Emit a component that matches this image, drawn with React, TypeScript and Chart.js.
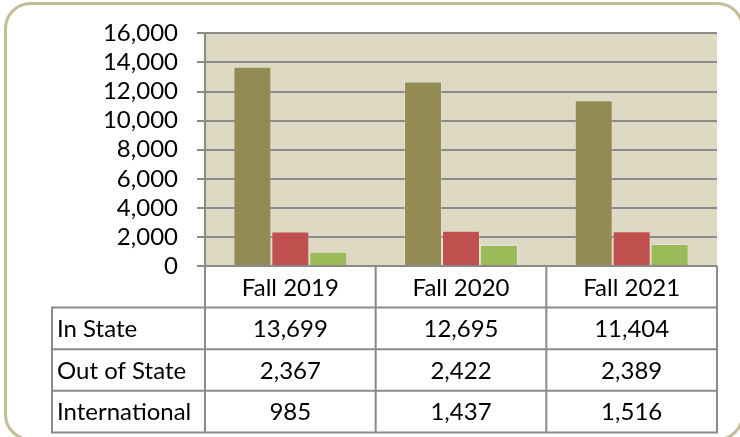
import React, { useEffect, useRef } from "react";
import { Chart, registerables } from "chart.js";

Chart.register(...registerables);

const categories = ["Fall 2019", "Fall 2020", "Fall 2021"];
const seriesNames = ["In State", "Out of State", "International"];
const inState = [13699, 12695, 11404];
const outOfState = [2367, 2422, 2389];
const international = [985, 1437, 1516];
const yTicks = [0, 2000, 4000, 6000, 8000, 10000, 12000, 14000, 16000];

const colors = ["#948A54", "#C0504D", "#9BBB59"];
const FONT = "Lato";
const FONT_SIZE = 24;
const LINE = "#8a8a8a";

const fmt = (v: number) => v.toLocaleString("en-US");

const tablePlugin = {
  id: "dataTable",
  beforeDraw(chart: any) {
    const { ctx, chartArea } = chart;
    ctx.save();
    ctx.fillStyle = "#FFFFFF";
    ctx.fillRect(0, 0, chart.width, chart.height);
    ctx.fillStyle = "#DDD9C3";
    ctx.fillRect(chartArea.left, chartArea.top, chartArea.right - chartArea.left, chartArea.bottom - chartArea.top);
    ctx.restore();
  },
  afterDraw(chart: any) {
    const { ctx, chartArea } = chart;
    const n = categories.length;
    const left = chartArea.left;
    const right = chartArea.right;
    const colW = (right - left) / n;
    const top = chartArea.bottom;
    const rowH = 41.6;
    const labelLeft = 52;
    const rows = [inState, outOfState, international];
    const bottom = top + rowH * (rows.length + 1);

    ctx.save();
    ctx.strokeStyle = LINE;
    ctx.lineWidth = 2;
    ctx.beginPath();
    for (let i = 0; i <= n; i++) {
      const x = left + colW * i;
      ctx.moveTo(x, top);
      ctx.lineTo(x, bottom);
    }
    ctx.moveTo(labelLeft, top + rowH - 1);
    ctx.lineTo(labelLeft, bottom + 1);
    for (let k = 1; k <= rows.length + 1; k++) {
      const y = top + rowH * k;
      ctx.moveTo(labelLeft, y);
      ctx.lineTo(right + 1, y);
    }
    ctx.stroke();

    ctx.fillStyle = "#000000";
    ctx.font = `${FONT_SIZE}px ${FONT}`;
    ctx.textBaseline = "middle";
    ctx.textAlign = "center";
    categories.forEach((c, i) => {
      ctx.fillText(c, left + colW * (i + 0.5), top + rowH / 2 + 1);
    });
    rows.forEach((vals, r) => {
      const cy = top + rowH * (r + 1.5) + 1;
      ctx.textAlign = "left";
      ctx.fillText(seriesNames[r], labelLeft + 5, cy);
      ctx.textAlign = "center";
      vals.forEach((v, i) => {
        ctx.fillText(fmt(v), left + colW * (i + 0.5), cy);
      });
    });

    // outer rounded border
    ctx.strokeStyle = "#C4BD97";
    ctx.lineWidth = 3;
    ctx.beginPath();
    (ctx as any).roundRect(5.5, 3.5, 737, 436, 25);
    ctx.stroke();
    ctx.restore();
  },
};

export default function App() {
  const ref = useRef<HTMLCanvasElement | null>(null);
  useEffect(() => {
    document.body.style.margin = "0";
    const canvas = ref.current!;
    const chart = new Chart(canvas, {
      type: "bar",
      data: {
        labels: categories,
        datasets: [inState, outOfState, international].map((d, i) => ({
          label: seriesNames[i],
          data: d,
          backgroundColor: colors[i],
          borderColor: "rgba(255,255,255,0.25)",
          borderWidth: 1,
          categoryPercentage: 0.667,
          barPercentage: 1,
        })),
      },
      options: {
        responsive: false,
        animation: false,
        devicePixelRatio: 1,
        layout: { padding: { left: 0, right: 23, top: 32, bottom: 171 } },
        plugins: { legend: { display: false }, tooltip: { enabled: false } },
        scales: {
          x: { display: false },
          y: {
            min: 0,
            max: 16000,
            afterFit: (s: any) => {
              s.width = 205;
            },
            afterBuildTicks: (s: any) => {
              s.ticks = yTicks.map((v) => ({ value: v }));
            },
            ticks: {
              color: "#000000",
              font: { family: FONT, size: FONT_SIZE },
              padding: 19,
              autoSkip: false,
              callback: (v: any) => fmt(Number(v)),
            },
            grid: { color: LINE, lineWidth: 2, tickLength: 8, drawTicks: true },
            border: { display: true, color: LINE, width: 2 },
          },
        },
      },
      plugins: [tablePlugin],
    });
    return () => chart.destroy();
  }, []);
  return <canvas ref={ref} width={740} height={437} style={{ display: "block", width: 740, height: 437 }} />;
}
